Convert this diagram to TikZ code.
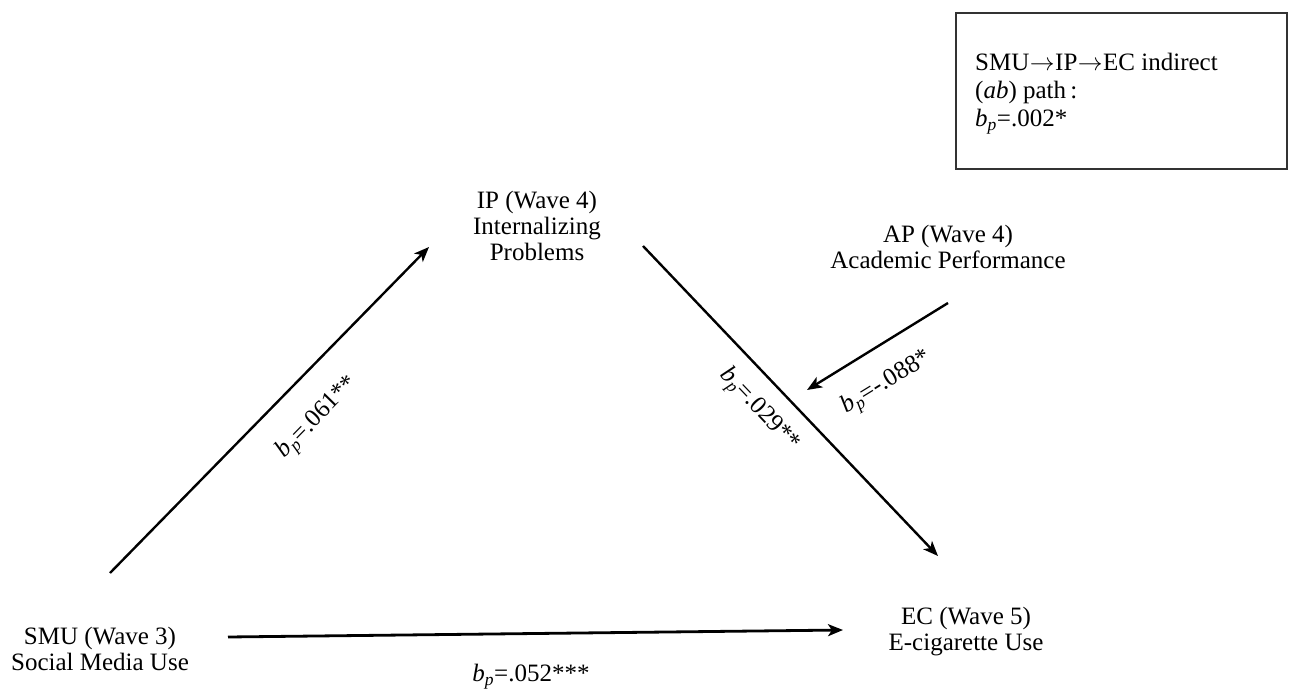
\documentclass[tikz,border=0pt]{standalone}
\usepackage{fontspec}
\setmainfont{Liberation Serif}
\usetikzlibrary{arrows.meta}
\newcommand{\bpsym}{\textit{b}\textsubscript{\textit{p}}}
\newcommand{\arr}{\kern0.5bp$\rightarrow$\kern0.5bp}
\begin{document}
\begin{tikzpicture}[x=1bp,y=-1bp,
  every node/.style={inner sep=0pt, font=\fontsize{25bp}{26bp}\selectfont},
  var/.style={align=center},
  lab/.style={anchor=center},
  path arrow/.style={line width=2.4bp, -{Stealth[length=15bp,width=12bp,inset=4bp]}},
  notebox/.style={draw=black!80, line width=1.3bp, minimum width=331bp, minimum height=156bp}
]
\useasboundingbox (0,0) rectangle (1292,693);
\fill[white] (0,0) rectangle (1292,693);

% variables
\node[var] (smu) at (100,649) {SMU (Wave 3)\\Social Media Use};
\node[var] (ip) at (537,226) {IP (Wave 4)\\Internalizing\\Problems};
\node[var] (ap) at (948,247) {AP (Wave 4)\\Academic Performance};
\node[var] (ec) at (966,632) {EC (Wave 5)\\E-cigarette Use};

% note box
\node[notebox] (box) at (1121.5,91) {};
\node[align=left, anchor=west, font=\fontsize{25bp}{28bp}\selectfont] (boxtext) at (975,94)
  {SMU\arr IP\arr EC indirect\\(\textit{ab}) path\,:\\\bpsym=.002*};

% connector end points
\coordinate (s1) at (110,573);
\coordinate (i1) at (429,247);
\coordinate (i2) at (643,246);
\coordinate (e1) at (938,556);
\coordinate (a1) at (948,303);
\coordinate (m1) at (807,390);
\coordinate (s2) at (228,637);
\coordinate (e2) at (843,630);

\draw[path arrow] (s1) -- (i1);
\draw[path arrow] (i2) -- (e1);
\draw[path arrow] (a1) -- (m1);
\draw[path arrow, line width=2.8bp] (s2) -- (e2);

% labels
\node[lab, rotate=45.6] (l1) at (318,418) {\bpsym=.061**};
\node[lab, rotate=-46.4] (l2) at (759,410) {\bpsym=.029**};
\node[lab, rotate=31.5] (l3) at (887,383) {\bpsym=-.088*};
\node[lab] (l4) at (531,677) {\bpsym=.052***};
\end{tikzpicture}
\end{document}
